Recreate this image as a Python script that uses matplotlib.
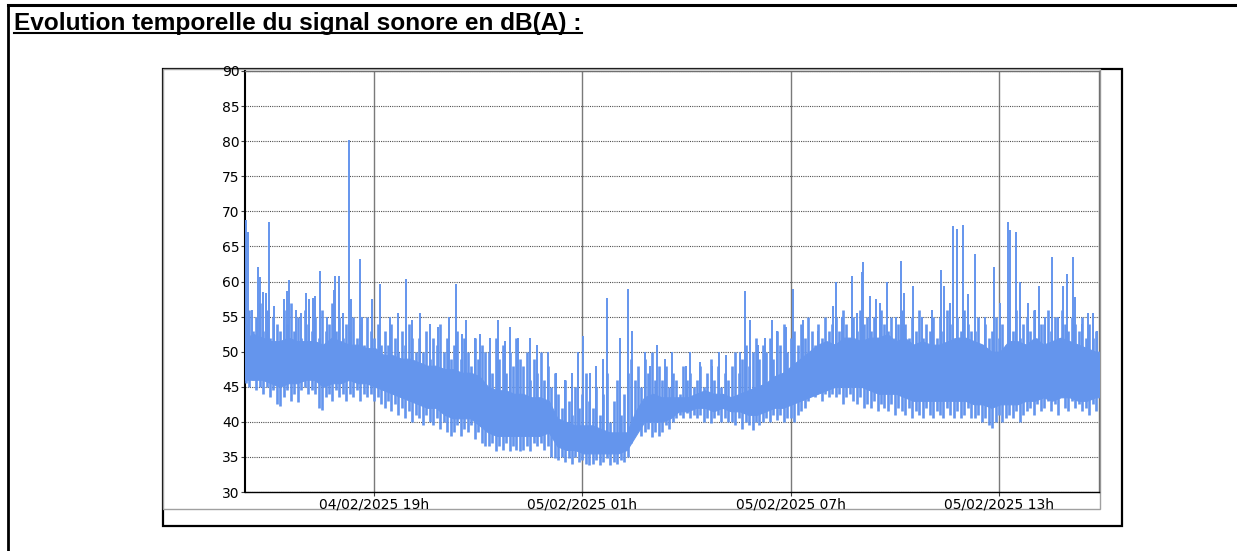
import numpy as np
import pandas as pd
import matplotlib
matplotlib.use('Agg')
import matplotlib.pyplot as plt
import matplotlib.dates as mdates
from matplotlib.patches import Rectangle
from matplotlib.lines import Line2D

W, H = 1237, 551
BLUE = "#6495ED"

title = "Evolution temporelle du signal sonore en dB(A) :"

# time in hours counted from 04/02/2025 00h
day0 = pd.Timestamp("2025-02-04 00:00")
t_start, t_end = 15.28, 39.88

# dense core of the signal, one value per 15 min
core_step = 0.25
core_lo = [46, 46, 46, 45.5, 45, 45.5, 45.5, 46, 46, 45, 45.5, 45.5, 46, 45.5, 45.5, 45,
           44.5, 44, 43.5, 43, 42.5, 42, 42, 41, 40.5, 40.5, 40.5, 39.5, 38.5, 38, 38, 38,
           38, 38, 38, 38.5, 36.5, 36, 36, 35.5,
           35.5, 35.5, 35.5, 35.5, 36, 38, 40, 40, 40, 40.5, 41.5, 41.5, 42, 42, 41.5, 42,
           41.5, 41.5, 41, 41, 41.5, 42, 42, 42.5,
           43, 43.5, 44, 44.5, 45, 45, 45, 45, 44.5, 44, 44, 44, 43.5, 43, 43, 43,
           43, 43, 43, 43, 42.5, 42.5, 42, 42.5, 42.5, 42.5, 43, 43, 43.5, 43, 43.5, 43.5,
           43, 43, 43.5, 43.5]
core_hi = [52, 52.5, 52, 51.5, 51.5, 52, 51.5, 51.5, 51.5, 51, 52, 51.5, 51, 51, 50.5, 50.5,
           49.5, 49.5, 49, 49, 48.5, 48, 48, 47.5, 47.5, 47, 47, 46.5, 45, 44.5, 44.5, 44,
           44, 43.5, 43.5, 43, 40.5, 40, 39.5, 39.5,
           39.5, 39, 38.5, 38.5, 38.5, 41.5, 43.5, 44, 43.5, 43.5, 43.5, 43.5, 44, 44.5, 44, 44,
           43.5, 44, 44.5, 45, 45.5, 46.5, 47, 48,
           49, 50, 51, 51.5, 51, 52, 52, 51.5, 52, 52, 52.5, 51.5, 52, 51, 51.5, 51,
           51, 51.5, 52, 52, 51.5, 51, 50, 50, 51.5, 51.5, 51, 52, 51, 51.5, 52, 51.5,
           51, 50.5, 50, 50]

# min / max of the fluctuations, one pair per 6 min (rows = 1 hour from 15.3 h)
fluct_step = 0.1
fluct_hi = [54, 56, 53, 55, 57, 53, 56, 52, 55, 54,
            53, 56, 54, 57, 53, 55, 52, 56, 54, 53,
            55, 52, 56, 53, 54, 57, 53, 55, 52, 54,
            53, 55, 52, 54, 51, 55, 53, 52, 54, 51,
            53, 51, 54, 52, 50, 53, 51, 54, 52, 50,
            52, 50, 53, 49, 52, 51, 54, 50, 52, 49,
            51, 53, 49, 52, 50, 48, 52, 49, 51, 50,
            50, 47, 52, 49, 51, 47, 50, 48, 52, 49,
            48, 50, 46, 49, 47, 50, 46, 48, 45, 47,
            44, 42, 46, 43, 41, 45, 42, 44, 47, 43,
            42, 45, 41, 44, 47, 40, 43, 46, 41, 44,
            47, 49, 46, 48, 45, 49, 47, 50, 46, 48,
            46, 48, 45, 47, 46, 44, 48, 46, 47, 45,
            46, 48, 45, 47, 49, 46, 48, 45, 47, 46,
            48, 50, 47, 49, 51, 48, 50, 52, 49, 51,
            50, 52, 49, 53, 51, 54, 50, 52, 53, 51,
            54, 52, 55, 53, 51, 54, 52, 55, 53, 54,
            55, 53, 56, 54, 52, 55, 53, 56, 54, 55,
            53, 55, 52, 56, 54, 53, 55, 52, 54, 56,
            54, 52, 55, 53, 56, 52, 54, 53, 55, 52,
            55, 53, 56, 54, 52, 55, 53, 56, 54, 53,
            53, 55, 51, 54, 52, 53, 55, 52, 54, 51,
            55, 53, 56, 52, 54, 55, 53, 56, 52, 54,
            54, 56, 53, 55, 52, 56, 54, 53, 55, 54,
            53, 55, 52, 54, 52, 53, 55, 52, 54, 52]
fluct_lo = [45.5, 45, 46, 44.5, 45, 44, 45, 43.5, 44.5, 42.5,
            42.3, 43.5, 44.5, 43, 44, 42.8, 44.5, 45, 44, 44.5,
            44, 42, 41.7, 43.5, 44, 43, 44.5, 43.5, 44, 43,
            44, 43.5, 44.5, 43, 44, 43.5, 44, 43, 43.5, 42.5,
            42, 43, 41.5, 42.5, 41, 42, 40.5, 41.5, 40, 41,
            40.5, 39.5, 41, 40, 39.5, 40.5, 39, 40, 38.5, 38,
            38.5, 39.5, 38, 39, 38.5, 39.5, 37.5, 38.5, 37, 36.5,
            36.5, 37, 35.8, 36.5, 36, 37, 35.8, 36.5, 36, 35.8,
            36, 36.5, 35.8, 37, 36.5, 37, 36, 36.5, 35, 34.8,
            34.5, 35, 34.3, 34.8, 34, 35, 34.3, 34.5, 34, 33.9,
            34, 34.5, 33.9, 34.3, 34.8, 33.9, 34.3, 34, 34.5, 34.3,
            35, 37, 38.5, 39.5, 38, 38.5, 39, 37.8, 38.5, 38,
            38.5, 39.5, 39, 40, 40.5, 41, 40.5, 41.2, 40.5, 41,
            40.5, 41, 40, 40.5, 39.8, 40.5, 41, 40, 40.5, 40,
            40, 39.5, 40.5, 39, 40, 39.5, 38.8, 40, 39.5, 40,
            40.5, 40, 41, 40.2, 41, 40, 40.5, 40.5, 40, 41,
            41.5, 42, 43, 44, 43.5, 44.5, 43, 44, 43.5, 44,
            43.5, 44, 42.5, 43.5, 44, 43, 42.5, 43.5, 42, 42.5,
            42, 43, 41.5, 42.5, 42, 41.5, 42.5, 41, 42, 41.5,
            41, 42, 40.5, 41.5, 41, 40.5, 42, 41, 40.5, 41.5,
            41, 40.5, 42, 41, 40.5, 41.5, 40.5, 41, 42, 40.5,
            40.5, 41, 40, 40.5, 39.5, 39.1, 40, 41, 40, 40.5,
            41, 40.5, 41.5, 40, 41, 41.5, 42, 41, 42.5, 41.5,
            42, 43, 41.5, 42.5, 41, 43.5, 42, 41.5, 43, 42,
            42.5, 41.5, 42, 41, 42.5, 41.5, 42, 42, 42, 42]

# short peaks above the fluctuations (hour, dB)
spike_t = [15.31, 15.37, 15.49, 15.66, 15.72, 15.80, 15.89, 15.98, 16.12, 16.41, 16.49, 16.55,
           16.75, 16.90, 17.04, 17.13, 17.24, 17.30, 17.44, 17.65, 17.85, 17.88, 17.99, 18.11,
           18.28, 18.34, 18.60, 18.65, 18.94, 19.17, 19.46, 19.69, 19.92, 20.09, 20.32, 20.61,
           20.84, 21.16, 21.36, 21.53, 21.65, 21.91, 22.05, 22.34, 22.57, 22.77, 22.92, 23.15,
           23.49, 23.69, 24.01, 24.24, 24.50, 24.70, 24.88, 25.02, 25.22, 25.39, 25.60, 25.71,
           26.09, 26.32, 26.43, 26.81, 26.95, 27.15, 27.38, 27.58, 27.99, 28.10, 28.39, 28.73,
           28.94, 29.14, 29.54, 29.69, 29.83, 30.06, 30.26, 30.46, 30.61, 30.87, 31.07, 31.36,
           31.79, 32.22, 32.31, 32.48, 32.77, 32.92, 33.06, 33.09, 33.29, 33.47, 33.58, 33.78,
           34.04, 34.18, 34.27, 34.53, 34.78, 35.07, 35.33, 35.42, 35.59, 35.68, 35.79, 35.96,
           36.11, 36.31, 36.60, 36.86, 37.03, 37.26, 37.32, 37.49, 37.61, 37.84, 38.04, 38.15,
           38.33, 38.53, 38.70, 38.85, 38.96, 39.13, 39.19, 39.39, 39.56, 39.71, 39.82]
spike_db = [68.7, 67.0, 56, 62, 60.7, 58.5, 58.3, 68.5, 56.5, 57.5, 58.7, 60.2,
            56, 55.5, 58.3, 57.5, 57.7, 58, 61.5, 55, 58.8, 60.8, 60.8, 55.5,
            80.2, 57.5, 63.2, 55, 57.5, 59.7, 55, 55.5, 60.3, 54.5, 55.5, 54,
            53.5, 55, 59.7, 52.5, 54.5, 52, 52.5, 52, 54.5, 51.5, 53.5, 52,
            52, 51, 50, 47, 46, 47, 50, 52.2, 47, 48, 49, 57.6,
            52, 58.9, 53, 50, 48, 51, 49, 50, 48, 50, 48.5, 48,
            50, 49.5, 50, 58.6, 54.5, 51, 52, 54.5, 53, 53.5, 59, 54.5,
            53, 56.5, 60, 55, 60.8, 55.5, 61.4, 62.8, 58, 57.5, 57, 60,
            55, 62.9, 58.3, 59.3, 55, 56, 61.6, 59.4, 57, 67.9, 67.5, 68,
            58.2, 63.9, 55, 62, 57, 68.5, 67.3, 67, 60, 57, 56, 59.4,
            55, 63.5, 55, 59.4, 61.1, 63.5, 57.8, 54, 55.5, 55.5, 53]

y_ticks = list(range(30, 95, 5))
x_ticks = [19, 25, 31, 37]


def hours_to_num(h):
    ts = day0 + pd.to_timedelta(np.asarray(h, dtype=float), unit="h")
    return mdates.date2num(ts.to_pydatetime())


def px(x0, y0, x1, y1):
    # pixel box (top-left origin) -> figure fraction rectangle
    return (x0 / W, 1 - y1 / H, (x1 - x0) / W, (y1 - y0) / H)


fig = plt.figure(figsize=(W / 100, H / 100), dpi=100)
fig.patch.set_facecolor("white")

# page frame and title
fig.add_artist(Line2D([8 / W, 8 / W], [0, 1 - 5 / H], transform=fig.transFigure,
                      color="black", lw=2))
fig.add_artist(Line2D([8 / W, 1], [1 - 5 / H, 1 - 5 / H], transform=fig.transFigure,
                      color="black", lw=2.2))
ttl = fig.text(14 / W, 1 - 30 / H, title, fontsize=17.6, fontweight="bold",
               family="Liberation Sans", ha="left", va="baseline")

# chart frames (behind the axes)
r1 = px(163, 69, 1122, 526)
fig.add_artist(Rectangle(r1[:2], *r1[2:], transform=fig.transFigure, fill=False,
                         ec="black", lw=1.6, zorder=-2))
r2 = px(163, 69, 1100, 509)
fig.add_artist(Rectangle(r2[:2], *r2[2:], transform=fig.transFigure, fc="white",
                         ec="#a0a0a0", lw=1, zorder=-1))

ax = fig.add_axes(px(245, 71, 1099, 492))
ax.set_zorder(1)
ax.set_facecolor("white")

ct = t_start + core_step * np.arange(len(core_lo))
ax.fill_between(hours_to_num(ct), core_lo, core_hi, color=BLUE, lw=0.8, ec=BLUE, zorder=3)

ft = 15.3 + fluct_step * np.arange(len(fluct_lo))
ax.vlines(hours_to_num(ft), fluct_lo, fluct_hi, color=BLUE, lw=1.9, zorder=3)

base = np.interp(spike_t, ct, core_lo)
ax.vlines(hours_to_num(spike_t), base, spike_db, color=BLUE, lw=1.4, zorder=3)

ax.set_xlim(hours_to_num(t_start), hours_to_num(t_end))
ax.set_ylim(30, 90)
ax.set_yticks(y_ticks)
ax.set_xticks(hours_to_num(x_ticks))
ax.xaxis.set_major_formatter(mdates.DateFormatter("%d/%m/%Y %Hh"))

ax.grid(axis="y", color="#505050", linestyle=(0, (1, 1)), lw=0.8, zorder=1)
ax.grid(axis="x", color="#7a7a7a", linestyle="-", lw=1, zorder=1)
ax.set_axisbelow(True)

for s in ["top", "right"]:
    ax.spines[s].set_color("#707070")
    ax.spines[s].set_linewidth(1)
ax.spines["left"].set_color("black")
ax.spines["left"].set_linewidth(1.5)
ax.spines["bottom"].set_color("black")
ax.spines["bottom"].set_linewidth(1)

ax.tick_params(axis="both", length=3, width=0.8, color="#404040", labelsize=10, pad=1)
for lab in ax.get_xticklabels() + ax.get_yticklabels():
    lab.set_family("DejaVu Sans")

fig.canvas.draw()
bb = ttl.get_window_extent()
fig.add_artist(Line2D([bb.x0 / W, bb.x1 / W], [1 - 33 / H, 1 - 33 / H],
                      transform=fig.transFigure, color="black", lw=1.5))

fig.savefig("out.png", dpi=100)
